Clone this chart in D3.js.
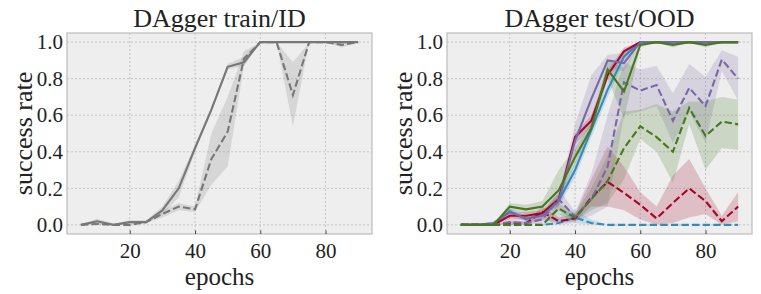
<!DOCTYPE html>
<html>
<head>
<meta charset="utf-8">
<script src="https://cdn.jsdelivr.net/npm/d3@7"></script>
<style>
  body { margin: 0; background: #fff; }
  text { font-family: "Liberation Serif", serif; fill: #222; }
</style>
</head>
<body>
<script>
// epochs on x axis
const epochs = [5,10,15,20,25,30,35,40,45,50,55,60,65,70,75,80,85,90];
const yTicks = [0, 0.2, 0.4, 0.6, 0.8, 1.0];
const xTicks = [20, 40, 60, 80];
const titles = ["DAgger train/ID", "DAgger test/OOD"];

// train / ID panel
const trainSolid   = [0,0.02,0,0.015,0.015,0.08,0.2,0.42,0.63,0.865,0.89,1,1,1,1,1,1,1];
const trainSolidLo = [0,0.005,0,0.005,0.01,0.06,0.15,0.4,0.62,0.85,0.87,1,1,1,1,1,1,1];
const trainSolidHi = [0,0.035,0.005,0.025,0.025,0.1,0.24,0.44,0.64,0.88,0.92,1,1,1,1,1,1,1];
const trainDash    = [0,0.005,0,0,0.015,0.06,0.1,0.085,0.36,0.51,0.91,1,1,0.71,1,1,0.985,1];
const trainDashLo  = [0,0,0,0,0.01,0.04,0.08,0.07,0.22,0.32,0.87,1,1,0.54,1,1,0.97,1];
const trainDashHi  = [0,0.01,0,0.005,0.02,0.08,0.12,0.1,0.5,0.7,0.95,1,1,0.89,1,1,1,1];

// test / OOD panel
const blueSolid    = [0,0,0,0.075,0.03,0.06,0.13,0.3,0.52,0.74,0.92,1,1,1,1,1,1,1];
const blueSolidLo  = [0,0,0,0.06,0.02,0.05,0.1,0.26,0.48,0.7,0.89,1,1,1,1,1,1,1];
const blueSolidHi  = [0,0,0,0.09,0.04,0.07,0.16,0.34,0.56,0.78,0.95,1,1,1,1,1,1,1];
const blueDash     = [0,0,0,0,0,0,0.01,0.04,0.01,0,0,0,0,0,0,0,0,0];
const blueDashLo   = [0,0,0,0,0,0,0,0.01,0,0,0,0,0,0,0,0,0,0];
const blueDashHi   = [0,0,0,0,0,0,0.06,0.08,0.03,0,0,0,0,0,0,0,0,0];

const redSolid     = [0,0,0,0.05,0.05,0.065,0.14,0.48,0.57,0.82,0.95,1,1,1,1,1,1,1];
const redSolidLo   = [0,0,0,0.03,0.03,0.05,0.11,0.44,0.54,0.79,0.93,1,1,1,1,1,1,1];
const redSolidHi   = [0,0,0,0.07,0.07,0.08,0.17,0.5,0.6,0.85,0.97,1,1,1,1,1,1,1];
const redDash      = [0,0,0,0.01,0.01,0.07,0.02,0.035,0.15,0.235,0.175,0.11,0.035,0.12,0.2,0.13,0.02,0.1];
const redDashLo    = [0,0,0,0,0,0.03,0.01,0.02,0.1,0.1,0.08,0.03,0,0.01,0.04,0.06,0,0.02];
const redDashHi    = [0,0,0,0.02,0.02,0.1,0.04,0.06,0.25,0.43,0.32,0.18,0.1,0.27,0.36,0.2,0.05,0.18];

const purpleSolid   = [0,0,0.01,0.07,0.035,0.05,0.13,0.46,0.69,0.9,0.885,1,1,1,1,1,1,1];
const purpleSolidLo = [0,0,0,0.04,0.02,0.03,0.1,0.38,0.55,0.85,0.84,1,1,1,1,1,1,1];
const purpleSolidHi = [0,0,0.02,0.09,0.05,0.07,0.16,0.55,0.82,0.93,0.94,1,1,1,1,1,1,1];
const purpleDash    = [0,0,0,0.015,0.01,0.03,0.14,0.045,0.14,0.32,0.78,0.735,0.765,0.57,0.75,0.65,0.905,0.8];
const purpleDashLo  = [0,0,0,0,0,0.01,0.08,0.02,0.05,0.1,0.6,0.62,0.65,0.45,0.62,0.45,0.84,0.68];
const purpleDashHi  = [0,0,0,0.03,0.02,0.05,0.2,0.07,0.28,0.6,0.89,0.85,0.87,0.72,0.88,0.81,0.955,0.92];

const greenSolid   = [0,0,0,0.1,0.085,0.1,0.19,0.37,0.53,0.85,0.73,0.985,1,0.985,1,0.985,1,1];
const greenSolidLo = [0,0,0,0.08,0.06,0.07,0.12,0.33,0.5,0.8,0.58,0.97,1,0.97,1,0.97,1,1];
const greenSolidHi = [0,0,0,0.12,0.11,0.13,0.3,0.42,0.56,0.9,0.86,1,1,1,1,1,1,1];
const greenDash    = [0,0,0,0,0,0,0.09,0.04,0.14,0.24,0.42,0.54,0.48,0.4,0.64,0.487,0.565,0.55];
const greenDashLo  = [0,0,0,0,0,0,0.06,0.02,0.08,0.12,0.25,0.47,0.4,0.23,0.55,0.3,0.42,0.41];
const greenDashHi  = [0,0,0,0,0,0,0.12,0.06,0.2,0.38,0.62,0.63,0.66,0.62,0.675,0.675,0.7,0.685];

const gray = "#777777", blue = "#348ABD", red = "#A60628", purple = "#7A68A6", green = "#467821";

const trainSeries = [
  {mean: trainSolid, lo: trainSolidLo, hi: trainSolidHi, color: gray, dashed: false},
  {mean: trainDash,  lo: trainDashLo,  hi: trainDashHi,  color: gray, dashed: true}
];
const testSeries = [
  {mean: blueSolid,   lo: blueSolidLo,   hi: blueSolidHi,   color: blue,   dashed: false},
  {mean: blueDash,    lo: blueDashLo,    hi: blueDashHi,    color: blue,   dashed: true},
  {mean: redSolid,    lo: redSolidLo,    hi: redSolidHi,    color: red,    dashed: false},
  {mean: redDash,     lo: redDashLo,     hi: redDashHi,     color: red,    dashed: true},
  {mean: purpleSolid, lo: purpleSolidLo, hi: purpleSolidHi, color: purple, dashed: false},
  {mean: purpleDash,  lo: purpleDashLo,  hi: purpleDashHi,  color: purple, dashed: true},
  {mean: greenSolid,  lo: greenSolidLo,  hi: greenSolidHi,  color: green,  dashed: false},
  {mean: greenDash,   lo: greenDashLo,   hi: greenDashHi,   color: green,  dashed: true}
];

const width = 761, height = 294;
const axTop = 33, axBottom = 234, axW = 305;
const lefts = [67, 447];

const svg = d3.select("body").append("svg")
  .attr("width", width).attr("height", height);

function drawPanel(left, title, series) {
  const x = d3.scaleLinear().domain([0.75, 94.25]).range([left, left + axW]);
  const y = d3.scaleLinear().domain([-0.05, 1.05]).range([axBottom, axTop]);
  const g = svg.append("g");

  g.append("rect")
    .attr("x", left).attr("y", axTop)
    .attr("width", axW).attr("height", axBottom - axTop)
    .style("fill", "#eeeeee");

  // grid
  g.append("g").selectAll("line").data(xTicks).enter().append("line")
    .attr("x1", d => x(d)).attr("x2", d => x(d))
    .attr("y1", axTop).attr("y2", axBottom)
    .style("stroke", "#b2b2b2").style("stroke-width", 0.7).style("stroke-dasharray", "2,2");
  g.append("g").selectAll("line").data(yTicks).enter().append("line")
    .attr("x1", left).attr("x2", left + axW)
    .attr("y1", d => y(d)).attr("y2", d => y(d))
    .style("stroke", "#b2b2b2").style("stroke-width", 0.7).style("stroke-dasharray", "2,2");

  const area = d3.area()
    .x((d, i) => x(epochs[i]))
    .y0(d => y(d[0])).y1(d => y(d[1]));
  const line = d3.line()
    .x((d, i) => x(epochs[i]))
    .y(d => y(d));

  series.forEach(function(s) {
    g.append("path")
      .datum(s.lo.map((v, i) => [v, s.hi[i]]))
      .attr("d", area)
      .style("fill", s.color).style("fill-opacity", 0.2).style("stroke", "none");
  });
  series.forEach(function(s) {
    g.append("path")
      .datum(s.mean)
      .attr("d", line)
      .style("fill", "none").style("stroke", s.color)
      .style("stroke-width", 2.1)
      .style("stroke-dasharray", s.dashed ? "7.4,3.2" : null);
  });

  // frame
  g.append("rect")
    .attr("x", left).attr("y", axTop)
    .attr("width", axW).attr("height", axBottom - axTop)
    .style("fill", "none").style("stroke", "#bcbcbc").style("stroke-width", 1.2);

  // axes (ticks inward, no domain line)
  const xa = g.append("g").attr("transform", "translate(0," + axBottom + ")")
    .call(d3.axisBottom(x).tickValues(xTicks).tickSize(-3.5).tickPadding(9));
  xa.select(".domain").remove();
  xa.selectAll("line").style("stroke", "#444");
  xa.selectAll("text").style("font-size", "21px").style("font-family", "Liberation Serif, serif").style("fill", "#222");

  const ya = g.append("g").attr("transform", "translate(" + left + ",0)")
    .call(d3.axisLeft(y).tickValues(yTicks).tickFormat(d3.format(".1f")).tickSize(0).tickPadding(4));
  ya.select(".domain").remove();
  ya.selectAll("text").style("font-size", "21px").style("font-family", "Liberation Serif, serif").style("fill", "#222");

  g.append("text")
    .attr("x", left + axW / 2).attr("y", 27)
    .attr("text-anchor", "middle")
    .style("font-size", "26px")
    .text(title);

  g.append("text")
    .attr("x", left + axW / 2).attr("y", 285)
    .attr("text-anchor", "middle")
    .style("font-size", "25px")
    .text("epochs");

  g.append("text")
    .attr("transform", "translate(" + (left - 35) + "," + ((axTop + axBottom) / 2) + ") rotate(-90)")
    .attr("text-anchor", "middle")
    .style("font-size", "26px")
    .text("success rate");
}

drawPanel(lefts[0], titles[0], trainSeries);
drawPanel(lefts[1], titles[1], testSeries);
</script>
</body>
</html>
